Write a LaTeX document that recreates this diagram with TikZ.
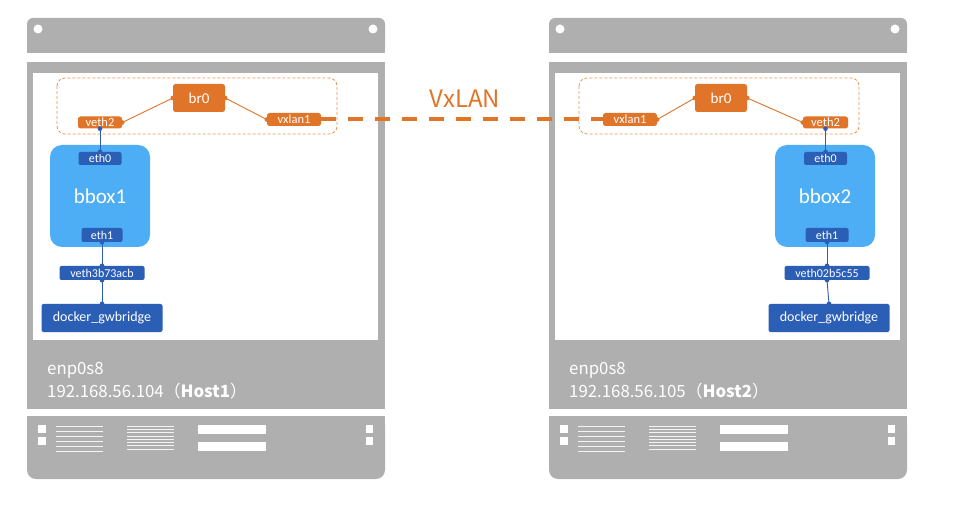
\documentclass[tikz,border=0pt]{standalone}
\usepackage{fontspec}
\setmainfont{Carlito}
\newfontfamily\cjkfont{Noto Sans CJK SC}
\definecolor{hostgray}{HTML}{AFAFAF}
\definecolor{ifaceorange}{HTML}{E07428}
\definecolor{boxorange}{HTML}{EE9250}
\definecolor{boxblue}{HTML}{4EAEF5}
\definecolor{ifaceblue}{HTML}{2B5FB6}
\definecolor{ventwhite}{HTML}{F4F4F4}
\begin{document}
\begin{tikzpicture}[x=1pt,y=-1pt,
  orbox/.style={fill=ifaceorange,text=white,rounded corners=2.5pt,inner sep=0pt,font=\fontsize{12.5}{12}\selectfont},
  bluebox/.style={fill=ifaceblue,text=white,rounded corners=2pt,inner sep=0pt,font=\fontsize{12}{12}\selectfont},
  contbox/.style={fill=boxblue,text=white,rounded corners=12pt,inner sep=0pt,font=\fontsize{21}{21}\selectfont},
  orline/.style={draw=ifaceorange,line width=0.9pt},
  blline/.style={draw=ifaceblue,line width=0.9pt},
  ordot/.style={fill=ifaceorange},
  bldot/.style={fill=ifaceblue},
  bridgebox/.style={draw=boxorange,line width=0.8pt,dash pattern=on 3pt off 2pt,rounded corners=8pt},
  tunnel/.style={draw=ifaceorange,line width=4pt},
  hosttext/.style={text=white,inner sep=0pt,anchor=base west,font=\cjkfont\fontsize{16.8}{16}\selectfont}
]
\useasboundingbox (0,0) rectangle (960,510);

% host chassis: top bar, body with white panel, vented bottom panel
\foreach \ox in {0,522}{
  \begin{scope}[xshift=\ox pt]
    \fill[hostgray,rounded corners=6pt] (27,18) rectangle (385,53);
    \fill[hostgray] (27,40) rectangle (385,53);
    \fill[white] (38,29) circle (4.5pt);
    \fill[white] (373,29) circle (4.5pt);
    \fill[hostgray] (27,62) rectangle (385,409);
    \fill[white] (33,73) rectangle (378,340);
    \fill[hostgray,rounded corners=9pt] (27,416) rectangle (385,479);
    \fill[hostgray] (27,416) rectangle (385,440);
    \fill[white] (38,425) rectangle (46,433);
    \fill[white] (38,437) rectangle (46,445);
    \fill[white] (366,425) rectangle (373,433);
    \fill[white] (366,437) rectangle (373,445);
    \foreach \yy in {426,431,436,441,446,451}
      \draw[ventwhite,line width=0.8pt] (56,\yy) -- (103,\yy);
    \foreach \yy in {426,429.3,432.6,435.9,439.2,442.5,445.8,449.1}
      \draw[ventwhite,line width=0.8pt] (127,\yy) -- (174,\yy);
    \fill[white] (198,425) rectangle (266,434);
    \fill[white] (198,442) rectangle (266,451);
  \end{scope}
}

% host addresses
\node[hosttext] (nicA) at (47,374) {enp0s8};
\node[hosttext] (ipA) at (47,397) {192.168.56.104（\textbf{Host1}）};
\node[hosttext] (nicB) at (569,374) {enp0s8};
\node[hosttext] (ipB) at (569,397) {192.168.56.105（\textbf{Host2}）};

% bridge namespaces
\draw[bridgebox] (57,78) rectangle (337,134);
\draw[bridgebox] (579,78) rectangle (859,134);

% host 1 interfaces
\node[orbox,minimum width=52pt,minimum height=28pt,font=\fontsize{15}{15}\selectfont] (brA) at (199,98) {br0};
\node[orbox,minimum width=44pt,minimum height=12pt] (vethA) at (100,122.5) {veth2};
\node[orbox,minimum width=54pt,minimum height=13pt] (vxA) at (294,119.5) {vxlan1};
\node[contbox,minimum width=100pt,minimum height=102pt] (bboxA) at (100,196) {bbox1};
\node[bluebox,minimum width=43pt,minimum height=13pt] (eth0A) at (100,158.5) {eth0};
\node[bluebox,minimum width=41pt,minimum height=14pt] (eth1A) at (102,235) {eth1};
\node[bluebox,minimum width=85pt,minimum height=14pt] (vpA) at (102,273) {veth3b73acb};
\node[bluebox,minimum width=121pt,minimum height=28pt,font=\fontsize{14}{14}\selectfont] (gwA) at (102,318) {docker\_gwbridge};

% host 2 interfaces
\node[orbox,minimum width=52pt,minimum height=28pt,font=\fontsize{15}{15}\selectfont] (brB) at (721,98) {br0};
\node[orbox,minimum width=54pt,minimum height=13pt] (vxB) at (630,119.5) {vxlan1};
\node[orbox,minimum width=45pt,minimum height=12pt] (vethB) at (825.5,122.5) {veth2};
\node[contbox,minimum width=100pt,minimum height=102pt] (bboxB) at (825,196) {bbox2};
\node[bluebox,minimum width=43pt,minimum height=13pt] (eth0B) at (825.5,158.5) {eth0};
\node[bluebox,minimum width=43pt,minimum height=14pt] (eth1B) at (827,235) {eth1};
\node[bluebox,minimum width=85pt,minimum height=14pt] (vpB) at (827,273) {veth02b5c55};
\node[bluebox,minimum width=121pt,minimum height=28pt,font=\fontsize{14}{14}\selectfont] (gwB) at (829,318) {docker\_gwbridge};

% bridge links
\foreach \a/\b in {vethA/brA,vxB/brB,brA/vxA,brB/vethB}{
  \draw[orline] (\a.east) -- (\b.west);
  \fill[ordot] (\a.east) circle (2.3pt);
  \fill[ordot] (\b.west) circle (2.3pt);
}

% veth pairs and container uplinks
\foreach \a/\b in {vethA/eth0A,eth1A/vpA,vpA/gwA,vethB/eth0B,eth1B/vpB,vpB/gwB}{
  \draw[blline] (\a.south) -- (\b.north);
  \fill[bldot] (\a.south) circle (2.3pt);
  \fill[bldot] (\b.north) circle (2.3pt);
}

% VxLAN tunnel between the two hosts
\coordinate (tunA) at (336,119.5);
\coordinate (tunB) at (591,119.5);
\draw[tunnel] (vxA.east) -- (tunA);
\draw[tunnel,dash pattern=on 15pt off 12pt,dash phase=15pt] (tunA) -- (tunB);
\draw[tunnel] (tunB) -- (vxB.west);
\node[text=ifaceorange,inner sep=0pt,anchor=base,font=\cjkfont\fontsize{24}{24}\selectfont] (vxlabel) at (465,108) {VxLAN};
\end{tikzpicture}
\end{document}
